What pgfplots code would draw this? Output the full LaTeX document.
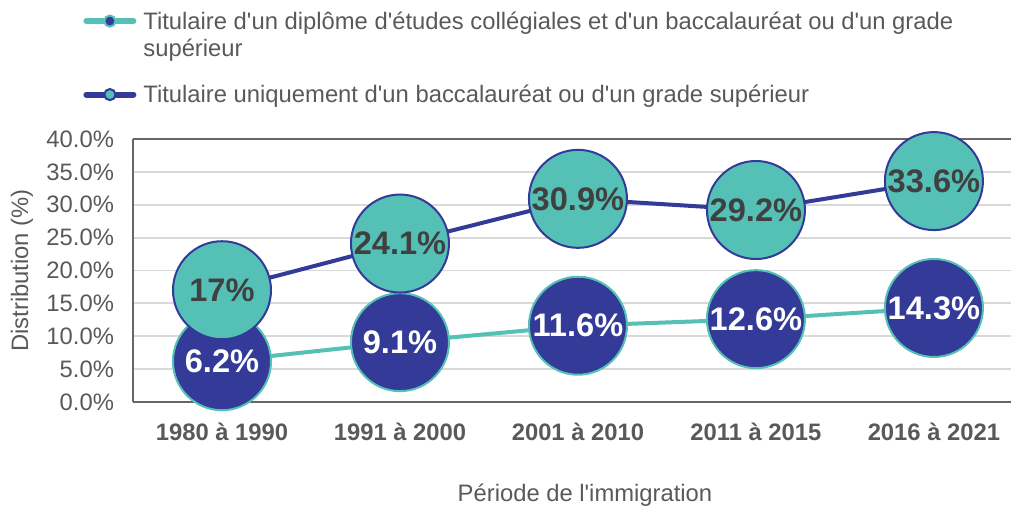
\documentclass[border=0pt]{standalone}
\usepackage{pgfplots}
\pgfplotsset{compat=1.18}
\usepackage{fontspec}
\setmainfont{Liberation Sans}
\newcommand{\q}{\textquotesingle}
\definecolor{mteal}{HTML}{55C1B6}
\definecolor{dblue}{HTML}{333A97}
\definecolor{txt}{HTML}{595959}
\definecolor{gridc}{HTML}{D9D9D9}
\definecolor{axisc}{HTML}{666666}
\definecolor{lbl}{HTML}{404040}
\begin{document}
\begin{tikzpicture}
\begin{axis}[
  scale only axis, width=439pt, height=131.5pt,
  xmin=-0.5, xmax=4.433, ymin=0, ymax=40,
  axis x line*=box, axis y line*=left,
  axis line style={draw=axisc, line width=1pt},
  xtick={0,...,4},
  xticklabels={1980 à 1990,1991 à 2000,2001 à 2010,2011 à 2015,2016 à 2021},
  ytick={0,5,...,40},
  yticklabel={\pgfmathprintnumber[fixed,fixed zerofill,precision=1]{\tick}\%},
  /pgf/number format/assume math mode=true,
  major tick length=0pt,
  ymajorgrids, major grid style={draw=gridc, line width=0.9pt},
  tick label style={font=\fontsize{11.9}{14}\selectfont, text=txt},
  xticklabel style={font=\fontsize{11.9}{14}\selectfont\bfseries, anchor=center, yshift=-15pt},
  yticklabel style={xshift=-6pt},
  xlabel={Période de l\q immigration},
  ylabel={Distribution (\%)},
  xlabel style={at={(axis description cs:0.5,0)}, anchor=center, yshift=-46.5pt, xshift=6.5pt, font=\fontsize{11.9}{14}\selectfont, text=txt},
  ylabel style={at={(axis description cs:0,0.5)}, anchor=center, rotate=0, yshift=55.5pt, font=\fontsize{11.9}{14}\selectfont, text=txt},
  clip=false,
  legend style={at={(axis description cs:0,1)}, anchor=south west, xshift=-26.5pt, yshift=14.5pt,
    draw=none, fill=none, inner sep=0pt, row sep=22.5pt,
    font=\fontsize{11.9}{14.5}\selectfont, text=txt,
    cells={anchor=base west}},
  legend image code/.code={\path (0pt,4pt) (26.5pt,4pt);\draw[mark repeat=2,mark phase=2,#1] plot coordinates {(1.5pt,4pt)(13.25pt,4pt)(25pt,4pt)};},
  legend image post style={mark size=2.8pt, line width=3pt, line cap=round},
  every node near coord/.append style={anchor=center},
]
\addplot[draw=mteal, line width=2pt, mark=*, mark size=24.5pt,
  mark options={fill=dblue, draw=mteal, line width=1pt},
  nodes near coords, point meta=explicit symbolic,
  nodes near coords style={font=\fontsize{16.3}{18}\selectfont\bfseries, text=white}]
  coordinates {(0,6.2) [6.2\%] (1,9.1) [9.1\%] (2,11.6) [11.6\%] (3,12.6) [12.6\%] (4,14.3) [14.3\%]};
\addlegendentry{\begin{tabular}[t]{@{}l@{}}Titulaire d\q un diplôme d\q études collégiales et d\q un baccalauréat ou d\q un grade\\[-1pt]supérieur\end{tabular}}
\addplot[draw=dblue, line width=2pt, mark=*, mark size=24.5pt,
  mark options={fill=mteal, draw=dblue, line width=1pt},
  nodes near coords, point meta=explicit symbolic,
  nodes near coords style={font=\fontsize{16.3}{18}\selectfont\bfseries, text=lbl}]
  coordinates {(0,17) [17\%] (1,24.1) [24.1\%] (2,30.9) [30.9\%] (3,29.2) [29.2\%] (4,33.6) [33.6\%]};
\addlegendentry{Titulaire uniquement d\q un baccalauréat ou d\q un grade supérieur}
\end{axis}
\pgfresetboundingbox
\path[use as bounding box] (-66.5pt,-52pt) rectangle (439pt,201pt);
\end{tikzpicture}
\end{document}
